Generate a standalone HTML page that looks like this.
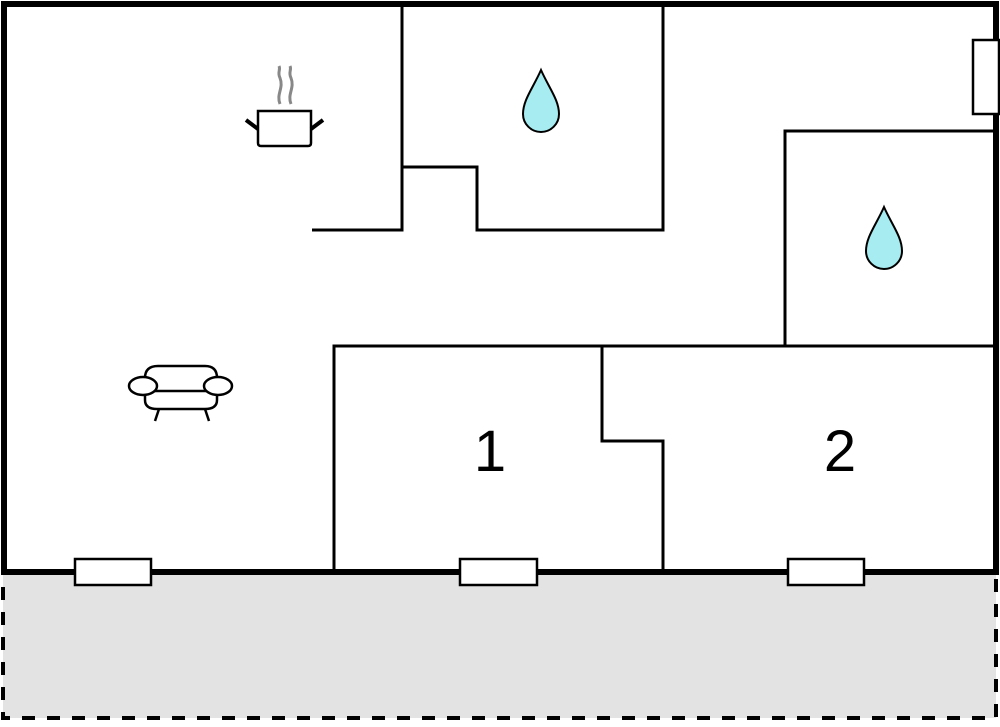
<!DOCTYPE html>
<html><head><style>html,body{margin:0;padding:0;background:#fff}</style></head><body>
<svg width="1000" height="722" viewBox="0 0 1000 722" xmlns="http://www.w3.org/2000/svg">
<rect x="3" y="572" width="993" height="146" fill="#e3e3e3" stroke="#000" stroke-width="4" stroke-dasharray="13,12"/>
<rect x="4" y="4" width="992" height="568" fill="#fff" stroke="#000" stroke-width="6"/>
<g stroke="#000" stroke-width="3" fill="none">
<polyline points="402,4 402,230 312,230"/>
<polyline points="402,167 477,167 477,230 663,230 663,4"/>
<polyline points="785,346 785,131 996,131"/>
<polyline points="996,346 334,346 334,572"/>
<polyline points="602,346 602,441 663,441 663,572"/>
</g>
<g fill="#fff" stroke="#000" stroke-width="2.5">
<rect x="75" y="559" width="76" height="26"/>
<rect x="460" y="559" width="77" height="26"/>
<rect x="788" y="559" width="76" height="26"/>
<rect x="973" y="40" width="26" height="74"/>
</g>
<g fill="#a6ecf0" stroke="#000" stroke-width="2">
<path d="M541,70 C533,88 523,100 523,114 A18,18 0 0 0 559,114 C559,100 549,88 541,70 Z"/>
<path d="M884,207 C876,225 866,237 866,251 A18,18 0 0 0 902,251 C902,237 892,225 884,207 Z"/>
</g>
<g fill="none" stroke="#888" stroke-width="3">
<path d="M280,104 C276,94 284,88 280,78 C277,72 281,70 279,66"/>
<path d="M291,104 C287,94 295,88 291,78 C288,72 292,70 290,66"/>
</g>
<g stroke="#000" fill="none">
<path d="M258,111 L311,111 L311,143 Q311,146 308,146 L261,146 Q258,146 258,143 Z" stroke-width="2.5"/>
<line x1="246" y1="120" x2="258" y2="129" stroke-width="4"/>
<line x1="323" y1="120" x2="311" y2="129" stroke-width="4"/>
</g>
<g stroke="#000" fill="#fff" stroke-width="2.5">
<path d="M145,396 L145,378 Q145,366 158,366 L205,366 Q217,366 217,378 L217,396"/>
<path d="M145,396 L145,400 Q145,409 157,409 L205,409 Q217,409 217,400 L217,396"/>
<line x1="146" y1="391" x2="216" y2="391"/>
<ellipse cx="143" cy="386" rx="14" ry="9"/>
<ellipse cx="218" cy="386" rx="14" ry="9"/>
<line x1="159" y1="409" x2="155" y2="421"/>
<line x1="205" y1="409" x2="209" y2="421"/>
</g>
<g font-family="Liberation Sans, sans-serif" font-size="58" text-anchor="middle">
<text x="490" y="471">1</text>
<text x="840" y="471">2</text>
</g>
</svg>
</body></html>
